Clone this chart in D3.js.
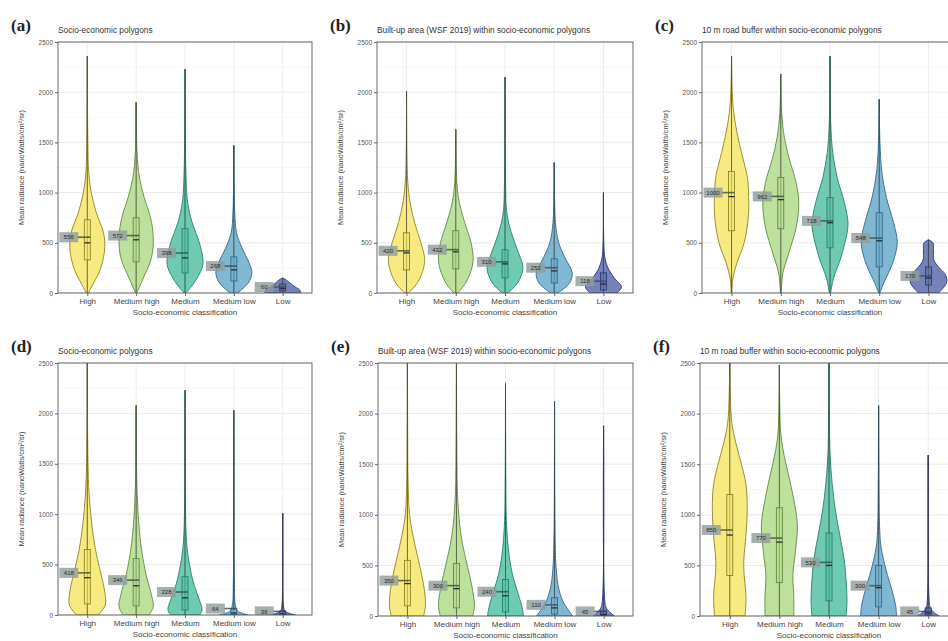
<!DOCTYPE html>
<html>
<head>
<meta charset="utf-8">
<script src="https://cdn.jsdelivr.net/npm/d3@7/dist/d3.min.js"></script>
<style>
  html, body { margin: 0; padding: 0; background: #fff; }
  svg { display: block; font-family: "Liberation Sans", Arial, sans-serif; }
</style>
</head>
<body>
<svg id="chart" width="948" height="641"></svg>
<script>
// Socio-economic classes shown on every panel
const categories = ["High", "Medium high", "Medium", "Medium low", "Low"];
const yTicks = [0, 500, 1000, 1500, 2000, 2500];
const yDomain = [0, 2500];

const panelLetters = ["(a)", "(b)", "(c)", "(d)", "(e)", "(f)"];
const panelTitles = [
  "Socio-economic polygons",
  "Built-up area (WSF 2019) within socio-economic polygons",
  "10 m road buffer within socio-economic polygons",
  "Socio-economic polygons",
  "Built-up area (WSF 2019) within socio-economic polygons",
  "10 m road buffer within socio-economic polygons"
];
const yTitle = "Mean radiance (nanoWatts/cm\u00B2/sr)";
const xTitle = "Socio-economic classification";

// Class colours
const fillColors = ["#f4e66a", "#b3da8c", "#55c2a4", "#6aabcb", "#5d6cab"];
const strokeColors = ["#8f8426", "#5f8c3e", "#23826c", "#2e6c8c", "#2e3b78"];

// Largest value per class (panels a-f)
const maxima = [
  [2360, 1900, 2230, 1470, 150],
  [2010, 1630, 2150, 1300, 1000],
  [2360, 2180, 2360, 1930, 530],
  [2600, 2080, 2230, 2030, 1010],
  [2600, 2600, 2300, 2120, 1880],
  [2600, 2480, 2600, 2080, 1590]
];
// Lower quartile, median, upper quartile per class
const lowerQuartiles = [
  [330, 310, 200, 120, 20],
  [230, 240, 150, 100, 30],
  [620, 640, 450, 260, 80],
  [110, 90, 50, 5, 3],
  [100, 80, 40, 20, 5],
  [400, 330, 150, 90, 10]
];
const medians = [
  [500, 530, 350, 230, 45],
  [400, 410, 290, 220, 90],
  [960, 930, 700, 520, 150],
  [370, 290, 170, 20, 10],
  [320, 270, 200, 80, 15],
  [800, 730, 500, 280, 30]
];
const upperQuartiles = [
  [730, 750, 640, 360, 90],
  [600, 620, 430, 340, 200],
  [1210, 1150, 950, 800, 260],
  [650, 560, 380, 60, 40],
  [550, 520, 360, 180, 50],
  [1200, 1070, 820, 500, 80]
];
// Mean per class
const means = [
  [556, 572, 398, 268, 60],
  [420, 432, 310, 252, 118],
  [1000, 962, 718, 548, 170],
  [418, 346, 228, 64, 36],
  [350, 300, 240, 110, 45],
  [850, 770, 530, 300, 45]
];

// Kernel density profiles: [value, relative density]
const densityA = [
  [[0,0.05],[100,0.35],[250,0.75],[450,0.97],[600,0.9],[800,0.5],[1000,0.22],[1200,0.08],[1500,0.03],[2360,0]],
  [[0,0.03],[150,0.4],[350,0.85],[550,0.95],[750,0.8],[950,0.45],[1150,0.18],[1400,0.05],[1900,0]],
  [[0,0.05],[100,0.5],[250,0.95],[330,1],[500,0.8],[700,0.4],[900,0.15],[1200,0.05],[2230,0]],
  [[0,0.2],[100,0.8],[200,1],[300,0.85],[450,0.45],[600,0.15],[800,0.05],[1470,0]],
  [[0,1],[30,0.95],[60,0.7],[100,0.4],[130,0.2],[150,0]]
];
const densityB = [
  [[0,0.1],[100,0.6],[250,0.95],[350,1],[500,0.8],[700,0.45],[900,0.2],[1100,0.07],[1400,0.02],[2010,0]],
  [[0,0.1],[100,0.55],[300,0.95],[500,0.85],[700,0.5],[900,0.2],[1100,0.06],[1630,0]],
  [[0,0.15],[100,0.7],[250,1],[400,0.75],[600,0.35],[800,0.1],[1100,0.03],[2150,0]],
  [[0,0.2],[100,0.85],[200,1],[350,0.6],[500,0.25],[700,0.07],[1300,0]],
  [[0,0.75],[60,1],[150,0.6],[250,0.25],[350,0.08],[500,0.02],[1000,0]]
];
const densityC = [
  [[0,0.02],[150,0.08],[300,0.3],[500,0.7],[750,0.93],[950,0.95],[1150,0.88],[1400,0.55],[1600,0.3],[1800,0.12],[2000,0.04],[2360,0]],
  [[0,0.02],[200,0.12],[400,0.45],[650,0.85],[900,1],[1100,0.85],[1350,0.45],[1550,0.2],[1800,0.05],[2180,0]],
  [[0,0.03],[150,0.2],[350,0.6],[600,0.95],[700,1],[900,0.8],[1150,0.4],[1400,0.15],[1700,0.04],[2360,0]],
  [[0,0.03],[100,0.25],[300,0.75],[500,1],[700,0.8],[950,0.4],[1200,0.15],[1500,0.04],[1930,0]],
  [[0,0.55],[100,1],[180,0.95],[260,0.55],[330,0.3],[420,0.28],[500,0.25],[530,0]]
];
const densityD = [
  [[0,0.6],[100,1],[250,0.95],[450,0.7],[650,0.45],[900,0.25],[1200,0.1],[1500,0.04],[2000,0.01],[2600,0]],
  [[0,0.7],[80,0.95],[200,0.85],[400,0.55],[650,0.3],[900,0.15],[1300,0.04],[2080,0]],
  [[0,0.8],[50,0.95],[150,0.8],[300,0.5],[500,0.25],[700,0.1],[1000,0.03],[2230,0]],
  [[0,0.8],[15,0.5],[40,0.2],[100,0.08],[300,0.03],[2030,0]],
  [[0,0.7],[15,0.4],[40,0.12],[100,0.04],[1010,0]]
];
const densityE = [
  [[0,0.9],[100,1],[250,0.95],[400,0.8],[600,0.55],[800,0.3],[1000,0.12],[1300,0.04],[2000,0.01],[2600,0]],
  [[0,0.9],[100,1],[300,0.85],[500,0.6],[700,0.35],[900,0.18],[1200,0.06],[1700,0.02],[2600,0]],
  [[0,1],[100,0.9],[250,0.65],[400,0.4],[600,0.2],[900,0.06],[1300,0.02],[2300,0]],
  [[0,1],[50,0.8],[150,0.45],[300,0.2],[500,0.08],[800,0.03],[2120,0]],
  [[0,0.6],[30,0.4],[80,0.15],[200,0.05],[1880,0]]
];
const densityF = [
  [[0,0.85],[200,0.9],[400,0.8],[550,0.78],[800,0.9],[1050,0.97],[1300,0.9],[1500,0.65],[1700,0.35],[1900,0.12],[2200,0.03],[2600,0]],
  [[0,0.8],[200,0.8],[400,0.75],[650,0.9],[900,1],[1150,0.8],[1400,0.5],[1600,0.25],[1800,0.08],[2100,0.02],[2480,0]],
  [[0,0.95],[150,1],[350,0.95],[550,0.85],[800,0.6],[1050,0.35],[1300,0.18],[1600,0.06],[2000,0.02],[2600,0]],
  [[0,1],[100,0.95],[250,0.75],[400,0.5],[550,0.28],[700,0.12],[900,0.05],[1300,0.02],[2080,0]],
  [[0,0.6],[30,0.35],[80,0.12],[200,0.04],[1590,0]]
];
const densities = [densityA, densityB, densityC, densityD, densityE, densityF];

// Plot frames for the 3 x 2 grid
const frames = [
  { left: 58,  right: 312, top: 42,  bottom: 293 },
  { left: 377, right: 633, top: 42,  bottom: 293 },
  { left: 702, right: 958, top: 42,  bottom: 293 },
  { left: 58,  right: 312, top: 363, bottom: 615 },
  { left: 378, right: 633, top: 363, bottom: 616 },
  { left: 700, right: 958, top: 363, bottom: 616 }
];

const sans = '"Liberation Sans", Arial, sans-serif';
const serif = '"Liberation Serif", "Times New Roman", serif';

const svg = d3.select("#chart");
const defs = svg.append("defs");
const halfWidth = d3.scaleLinear().domain([0, 1]).range([0, 18]);

frames.forEach((f, p) => {
  const x = d3.scalePoint().domain(categories).range([f.left, f.right]).padding(0.6);
  const y = d3.scaleLinear().domain(yDomain).range([f.bottom, f.top]);
  const g = svg.append("g");

  defs.append("clipPath").attr("id", "clip" + p)
    .append("rect").attr("x", f.left).attr("y", f.top)
    .attr("width", f.right - f.left).attr("height", f.bottom - f.top);

  // grid
  const minor = d3.range(250, 2500, 500);
  g.selectAll(".gmin").data(minor).join("line")
    .attr("x1", f.left).attr("x2", f.right)
    .attr("y1", d => y(d)).attr("y2", d => y(d))
    .attr("stroke", "#f2f2f2").attr("stroke-width", 0.6);
  g.selectAll(".gmaj").data(yTicks).join("line")
    .attr("x1", f.left).attr("x2", f.right)
    .attr("y1", d => y(d)).attr("y2", d => y(d))
    .attr("stroke", "#e4e4e4").attr("stroke-width", 0.8);
  g.selectAll(".gx").data(categories).join("line")
    .attr("x1", d => x(d)).attr("x2", d => x(d))
    .attr("y1", f.top).attr("y2", f.bottom)
    .attr("stroke", "#e8e8e8").attr("stroke-width", 0.8);

  const plot = g.append("g").attr("clip-path", `url(#clip${p})`);

  categories.forEach((c, i) => {
    const cx = x(c);
    const prof = densities[p][i];
    const area = d3.area()
      .y(d => y(d[0]))
      .x0(d => cx - halfWidth(d[1]))
      .x1(d => cx + halfWidth(d[1]))
      .curve(d3.curveCatmullRom.alpha(0.5));

    // whisker / range line
    plot.append("line")
      .attr("x1", cx).attr("x2", cx)
      .attr("y1", y(0)).attr("y2", y(maxima[p][i]))
      .attr("stroke", "#3a3a3a").attr("stroke-width", 1);

    plot.append("path").datum(prof)
      .attr("d", area)
      .attr("fill", fillColors[i]).attr("fill-opacity", 0.85)
      .attr("stroke", strokeColors[i]).attr("stroke-width", 0.9);

    // inner range line over the fill
    plot.append("line")
      .attr("x1", cx).attr("x2", cx)
      .attr("y1", y(0)).attr("y2", y(maxima[p][i]))
      .attr("stroke", "#3a3a3a").attr("stroke-opacity", 0.75).attr("stroke-width", 0.9);

    // box
    plot.append("rect")
      .attr("x", cx - 3).attr("width", 6)
      .attr("y", y(upperQuartiles[p][i]))
      .attr("height", y(lowerQuartiles[p][i]) - y(upperQuartiles[p][i]))
      .attr("fill", fillColors[i]).attr("fill-opacity", 0.6)
      .attr("stroke", strokeColors[i]).attr("stroke-width", 0.9);
    plot.append("line")
      .attr("x1", cx - 3).attr("x2", cx + 3)
      .attr("y1", y(medians[p][i])).attr("y2", y(medians[p][i]))
      .attr("stroke", "#263030").attr("stroke-width", 1.3);

    // mean label
    const my = y(means[p][i]);
    plot.append("line")
      .attr("x1", cx - 10).attr("x2", cx + 3)
      .attr("y1", my).attr("y2", my)
      .attr("stroke", "#3d4a4a").attr("stroke-width", 1.6).attr("stroke-opacity", 0.8);
    plot.append("rect")
      .attr("x", cx - 28).attr("y", my - 5)
      .attr("width", 19).attr("height", 10)
      .attr("fill", "#8e9c9a").attr("fill-opacity", 0.8);
    plot.append("text")
      .attr("x", cx - 18.5).attr("y", my + 2.2)
      .attr("text-anchor", "middle")
      .style("font-family", sans).style("font-size", "6px")
      .attr("fill", "#1f2b2b")
      .text(means[p][i]);
  });

  // frame
  g.append("rect")
    .attr("x", f.left).attr("y", f.top)
    .attr("width", f.right - f.left).attr("height", f.bottom - f.top)
    .attr("fill", "none").attr("stroke", "#5a5a5a").attr("stroke-width", 0.9);

  // axes
  const ya = d3.axisLeft(y).tickValues(yTicks).tickFormat(d3.format("d"))
    .tickSize(3).tickPadding(2);
  g.append("g").attr("transform", `translate(${f.left},0)`).call(ya)
    .call(a => a.select(".domain").remove())
    .call(a => a.selectAll("line").attr("stroke", "#666"))
    .call(a => a.selectAll("text").attr("fill", "#555")
      .style("font-family", sans).style("font-size", "6.5px"));
  const xa = d3.axisBottom(x).tickSize(3).tickPadding(2);
  g.append("g").attr("transform", `translate(0,${f.bottom})`).call(xa)
    .call(a => a.select(".domain").remove())
    .call(a => a.selectAll("line").attr("stroke", "#666"))
    .call(a => a.selectAll("text").attr("fill", "#444")
      .style("font-family", sans).style("font-size", "8px"));

  // titles
  g.append("text")
    .attr("x", (f.left + f.right) / 2)
    .attr("y", f.bottom + 22)
    .attr("text-anchor", "middle").attr("fill", "#444")
    .style("font-family", sans).style("font-size", "8px")
    .text(xTitle);
  g.append("text")
    .attr("transform", `translate(${f.left - 34},${(f.top + f.bottom) / 2}) rotate(-90)`)
    .attr("text-anchor", "middle").attr("fill", "#444")
    .style("font-family", sans).style("font-size", "7.5px")
    .text(yTitle);
  g.append("text")
    .attr("x", f.left).attr("y", f.top - 9)
    .attr("fill", "#333")
    .style("font-family", sans).style("font-size", "8.3px")
    .text(panelTitles[p]);
  g.append("text")
    .attr("x", f.left - 47).attr("y", f.top - 11)
    .attr("fill", "#222")
    .style("font-family", serif).style("font-size", "17px").style("font-weight", "bold")
    .text(panelLetters[p]);
});
</script>
</body>
</html>
